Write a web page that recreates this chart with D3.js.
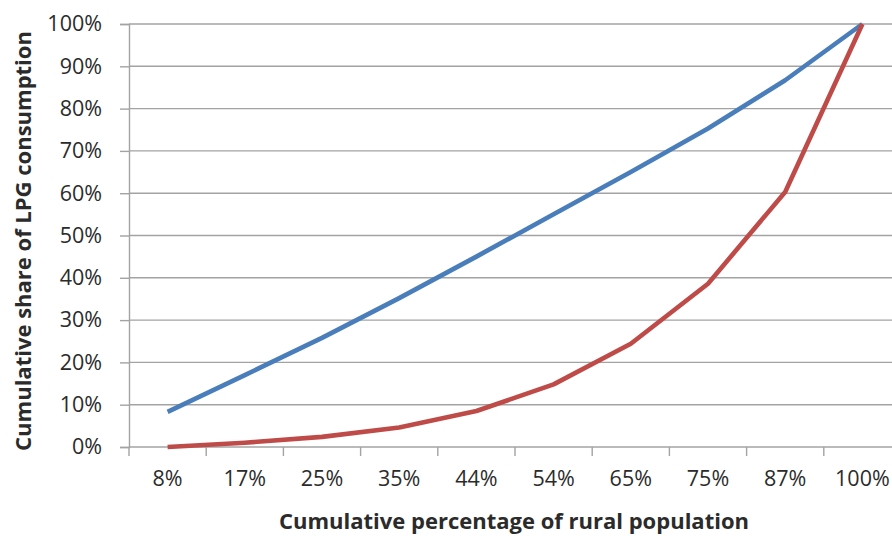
<!DOCTYPE html>
<html>
<head>
<meta charset="utf-8">
<script src="https://cdn.jsdelivr.net/npm/d3@7"></script>
<style>
  html, body { margin: 0; padding: 0; background: #fff; }
  svg { display: block; }
  text { font-family: "Open Sans", "Noto Sans", sans-serif; fill: #2b2b2b; }
</style>
</head>
<body>
<svg id="chart" width="892" height="536"></svg>
<script>
// Cumulative percentage of rural population (categories)
const categories = ["8%", "17%", "25%", "35%", "44%", "54%", "65%", "75%", "87%", "100%"];
// Line of equality (cumulative share, %)
const equalityShare = [8.3, 17.0, 25.8, 35.2, 45.0, 55.0, 65.0, 75.3, 86.7, 100];
// Lorenz curve of LPG consumption (cumulative share, %)
const lpgShare = [0.0, 1.0, 2.4, 4.6, 8.5, 14.8, 24.4, 38.6, 60.3, 100];
// Y axis ticks (%)
const yTicks = [0, 10, 20, 30, 40, 50, 60, 70, 80, 90, 100];

const svg = d3.select("#chart");
const W = 892, H = 536;
const plotLeft = 129, plotTop = 24, plotBottom = 447;
const step = 77.2;

const x = d3.scaleBand().domain(categories).range([plotLeft, plotLeft + step * categories.length]).padding(0);
const y = d3.scaleLinear().domain([0, 100]).range([plotBottom, plotTop]);
const cx = c => x(c) + x.bandwidth() / 2;

const gridColor = "#a3a3a3";
const labelSize = 21.5;

// horizontal gridlines
svg.append("g").selectAll("line").data(yTicks.filter(d => d > 0)).join("line")
  .attr("x1", plotLeft).attr("x2", W + 20)
  .attr("y1", d => y(d)).attr("y2", d => y(d))
  .attr("stroke", gridColor).attr("stroke-width", 1.4);

// y axis
const yAxis = svg.append("g").attr("transform", `translate(${plotLeft},0)`)
  .call(d3.axisLeft(y).tickValues(yTicks).tickSize(9).tickPadding(18).tickFormat(d => d + "%"));
yAxis.select(".domain").attr("stroke", gridColor).attr("stroke-width", 1.4);
yAxis.selectAll(".tick line").attr("stroke", gridColor).attr("stroke-width", 1.4);
yAxis.selectAll("text").attr("font-size", labelSize).attr("fill", "#2b2b2b")
  .attr("font-family", "\"Open Sans\", sans-serif");

// x axis: labels at category centres, tick marks between categories
const xAxis = svg.append("g").attr("transform", `translate(0,${plotBottom})`)
  .call(d3.axisBottom(x).tickSize(0).tickPadding(24));
xAxis.select(".domain").remove();
xAxis.selectAll("text").attr("font-size", labelSize).attr("fill", "#2b2b2b")
  .attr("font-family", "\"Open Sans\", sans-serif");
svg.append("line").attr("x1", plotLeft).attr("x2", W + 20).attr("y1", plotBottom).attr("y2", plotBottom)
  .attr("stroke", gridColor).attr("stroke-width", 1.4);
svg.append("g").selectAll("line").data(categories).join("line")
  .attr("x1", d => x(d)).attr("x2", d => x(d))
  .attr("y1", plotBottom).attr("y2", plotBottom + 9)
  .attr("stroke", gridColor).attr("stroke-width", 1.4);

// series lines
const line = d3.line().x(d => cx(d.c)).y(d => y(d.v));
const series = [
  { values: equalityShare, color: "#4a7ebb" },
  { values: lpgShare, color: "#be4b48" }
];
svg.append("g").selectAll("path").data(series).join("path")
  .attr("d", s => line(s.values.map((v, i) => ({ c: categories[i], v }))))
  .attr("fill", "none").attr("stroke", s => s.color)
  .attr("stroke-width", 4.6).attr("stroke-linejoin", "round").attr("stroke-linecap", "butt");

// axis titles
svg.append("text").attr("x", 514).attr("y", 529).attr("text-anchor", "middle")
  .attr("font-size", 22).attr("font-weight", "bold")
  .text("Cumulative percentage of rural population");
svg.append("text").attr("transform", "translate(31,241) rotate(-90)").attr("text-anchor", "middle")
  .attr("font-size", 22).attr("font-weight", "bold")
  .text("Cumulative share of LPG consumption");
</script>
</body>
</html>
